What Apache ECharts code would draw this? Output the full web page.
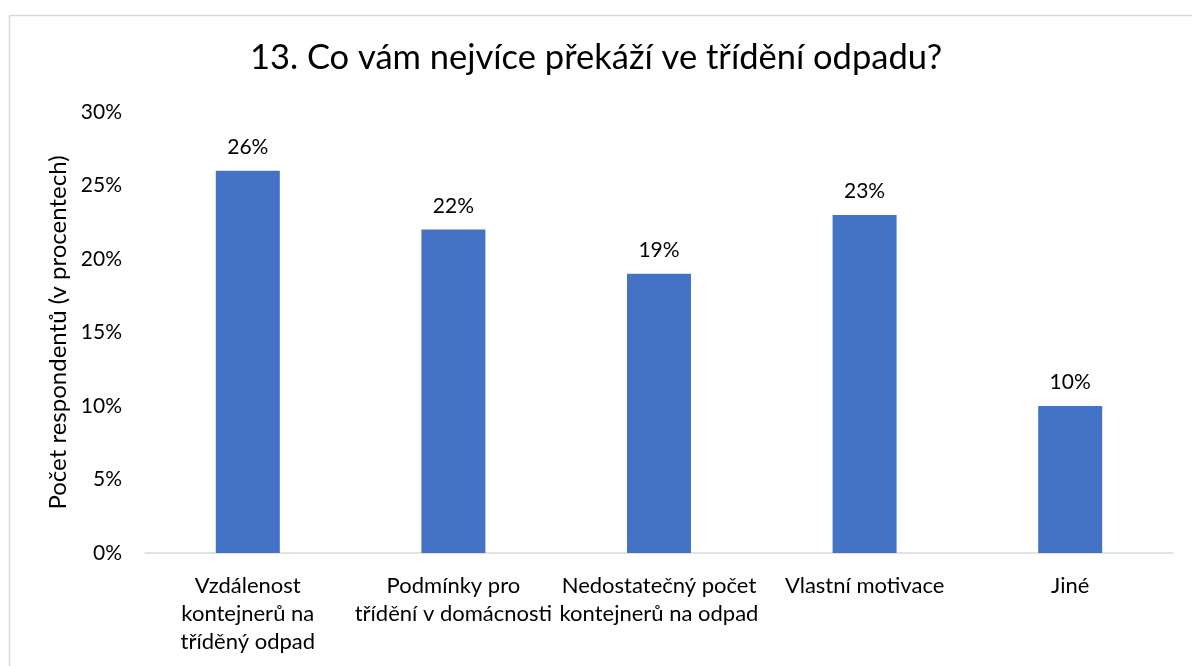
<!DOCTYPE html>
<html><head><meta charset="utf-8">
<script src="https://cdn.jsdelivr.net/npm/echarts@6/dist/echarts.min.js"></script>
<style>html,body{margin:0;padding:0;background:#fff}#c{width:1192px;height:666px}</style>
</head><body><div id="c"></div>
<script>
const titleText = '13. Co vám nejvíce překáží ve třídění odpadu?';
const categories = ['Vzdálenost\nkontejnerů na\ntříděný odpad', 'Podmínky pro\ntřídění v domácnosti', 'Nedostatečný počet\nkontejnerů na odpad', 'Vlastní motivace', 'Jiné'];
const values = [26, 22, 19, 23, 10];
const yAxisName = 'Počet respondentů (v procentech)';
const FONT = 'Lato, "Open Sans", sans-serif';
const chart = echarts.init(document.getElementById('c'));
chart.setOption({
  animation: false,
  backgroundColor: '#fff',
  graphic: [{type:'rect', left:7, top:13, shape:{width:1300, height:800}, style:{fill:'none', stroke:'#d9d9d9', lineWidth:1.5}, silent:true}],
  title: {text: titleText, left: 'center', top: 35, textStyle:{fontFamily:FONT, fontSize:34.5, fontWeight:'normal', color:'#000'}},
  grid: {left:145, right:19, top:112, bottom:113},
  xAxis: {type:'category', data:categories,
    axisLine:{lineStyle:{color:'#d9d9d9', width:1.5}}, axisTick:{show:false},
    axisLabel:{fontFamily:FONT, fontSize:22, color:'#000', lineHeight:28, margin:19, interval:0}},
  yAxis: {type:'value', min:0, max:30, interval:5,
    name: yAxisName, nameLocation:'middle', nameGap:74, nameRotate:90,
    nameTextStyle:{fontFamily:FONT, fontSize:24, color:'#000'},
    axisLine:{show:false}, axisTick:{show:false}, splitLine:{show:false},
    axisLabel:{fontFamily:FONT, fontSize:21, color:'#000', margin:23, formatter: v => v + '%'}},
  series: [{type:'bar', data:values, barWidth:64, itemStyle:{color:'#4472C4'},
    label:{show:true, position:'top', distance:13, fontFamily:FONT, fontSize:21, color:'#000', formatter: p => p.value + '%'}}]
});
</script></body></html>
